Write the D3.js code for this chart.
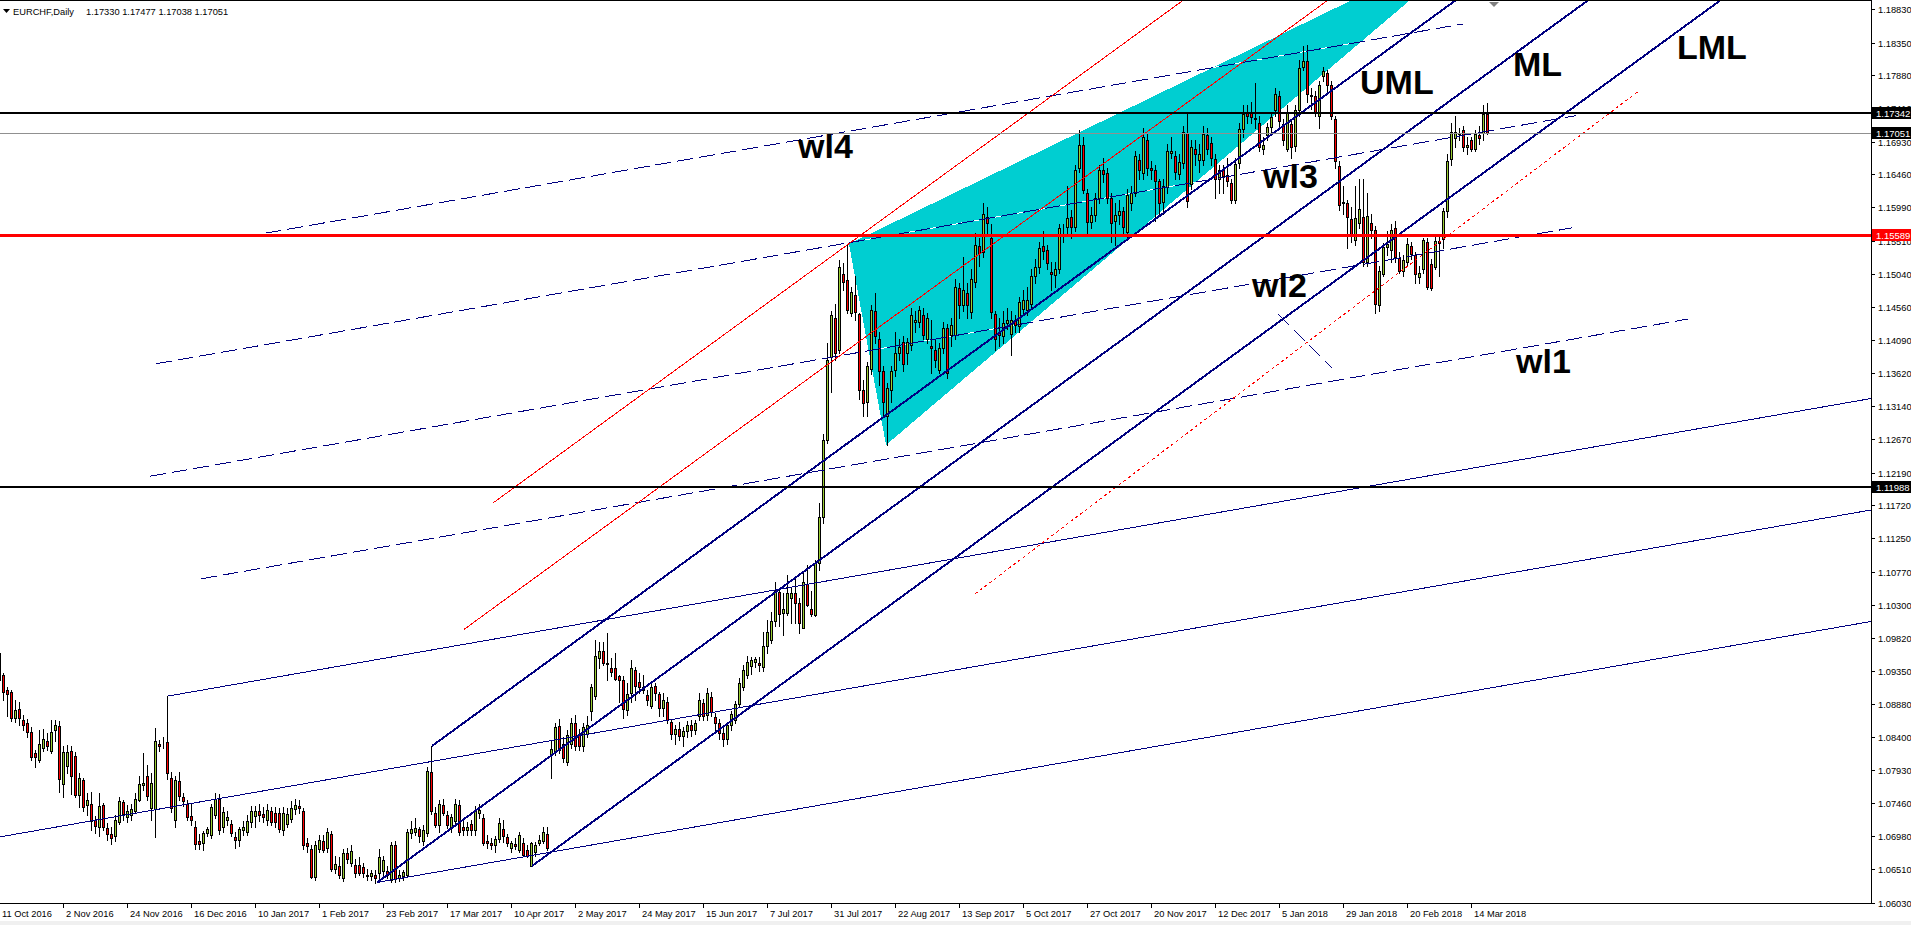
<!DOCTYPE html>
<html><head><meta charset="utf-8">
<script src="https://cdn.jsdelivr.net/npm/d3@7"></script>
<style>
html,body{margin:0;padding:0;background:#fff;overflow:hidden}
svg{display:block}
text{font-family:"Liberation Sans",Arial,sans-serif}
</style></head><body>
<svg id="chart" width="1911" height="925"></svg>
<script>
// ---------- DATA ----------
const symbolTitle = "EURCHF,Daily";
const lastQuote = "1.17330 1.17477 1.17038 1.17051";
const dateTickLabels = ["11 Oct 2016","2 Nov 2016","24 Nov 2016","16 Dec 2016","10 Jan 2017","1 Feb 2017","23 Feb 2017","17 Mar 2017","10 Apr 2017","2 May 2017","24 May 2017","15 Jun 2017","7 Jul 2017","31 Jul 2017","22 Aug 2017","13 Sep 2017","5 Oct 2017","27 Oct 2017","20 Nov 2017","12 Dec 2017","5 Jan 2018","29 Jan 2018","20 Feb 2018","14 Mar 2018"];
const barsPerDateTick = 16;
const priceTicks = [1.18830,1.18350,1.17880,1.17410,1.16930,1.16460,1.15990,1.15510,1.15040,1.14560,1.14090,1.13620,1.13140,1.12670,1.12190,1.11720,1.11250,1.10770,1.10300,1.09820,1.09350,1.08880,1.08400,1.07930,1.07460,1.06980,1.06510,1.06030];

const opens = [1.0960,1.0929,1.0908,1.0905,1.0867,1.0881,1.0865,1.0860,1.0848,1.0817,1.0808,1.0824,1.0835,1.0821,1.0850,1.0856,1.0773,1.0799,1.0820,1.0813,1.0757,1.0779,1.0743,1.0745,1.0722,1.0711,1.0743,1.0710,1.0702,1.0698,1.0718,1.0747,1.0726,1.0729,1.0735,1.0750,1.0772,1.0784,1.0738,1.0737,1.0831,1.0830,1.0833,1.0781,1.0722,1.0777,1.0754,1.0745,1.0727,1.0711,1.0691,1.0689,1.0703,1.0700,1.0729,1.0752,1.0712,1.0722,1.0716,1.0697,1.0693,1.0707,1.0704,1.0719,1.0727,1.0734,1.0730,1.0722,1.0734,1.0732,1.0731,1.0707,1.0716,1.0723,1.0737,1.0742,1.0734,1.0688,1.0680,1.0640,1.0680,1.0692,1.0682,1.0702,1.0652,1.0655,1.0638,1.0674,1.0660,1.0657,1.0657,1.0654,1.0643,1.0641,1.0643,1.0645,1.0649,1.0649,1.0636,1.0685,1.0638,1.0641,1.0643,1.0703,1.0705,1.0708,1.0691,1.0703,1.0790,1.0732,1.0715,1.0743,1.0729,1.0712,1.0720,1.0743,1.0711,1.0707,1.0716,1.0707,1.0732,1.0724,1.0692,1.0688,1.0686,1.0694,1.0708,1.0697,1.0681,1.0687,1.0679,1.0689,1.0679,1.0655,1.0676,1.0689,1.0691,1.0701,1.0815,1.0819,1.0856,1.0831,1.0805,1.0831,1.0860,1.0843,1.0827,1.0845,1.0877,1.0899,1.0953,1.0964,1.0946,1.0939,1.0939,1.0927,1.0922,1.0879,1.0903,1.0937,1.0919,1.0907,1.0900,1.0885,1.0914,1.0902,1.0882,1.0891,1.0862,1.0845,1.0852,1.0842,1.0849,1.0858,1.0850,1.0870,1.0889,1.0872,1.0897,1.0869,1.0861,1.0846,1.0838,1.0858,1.0865,1.0888,1.0912,1.0929,1.0942,1.0948,1.0946,1.0940,1.0970,1.0979,1.1006,1.1048,1.1018,1.1018,1.1040,1.1046,1.1032,1.0996,1.1059,1.1023,1.1015,1.1089,1.1155,1.1266,1.1385,1.1441,1.1395,1.1503,1.1495,1.1447,1.1473,1.1446,1.1337,1.1320,1.1368,1.1450,1.1410,1.1364,1.1300,1.1337,1.1366,1.1390,1.1406,1.1390,1.1402,1.1435,1.1435,1.1445,1.1411,1.1400,1.1394,1.1366,1.1397,1.1426,1.1416,1.1416,1.1484,1.1459,1.1476,1.1449,1.1492,1.1543,1.1535,1.1585,1.1555,1.1446,1.1421,1.1414,1.1433,1.1418,1.1437,1.1429,1.1454,1.1452,1.1461,1.1500,1.1513,1.1543,1.1538,1.1506,1.1502,1.1511,1.1566,1.1571,1.1585,1.1571,1.1655,1.1688,1.1620,1.1578,1.1588,1.1612,1.1652,1.1648,1.1612,1.1580,1.1588,1.1593,1.1564,1.1605,1.1620,1.1667,1.1648,1.1695,1.1655,1.1652,1.1636,1.1607,1.1628,1.1677,1.1672,1.1647,1.1662,1.1706,1.1633,1.1683,1.1667,1.1667,1.1702,1.1691,1.1668,1.1640,1.1652,1.1645,1.1634,1.1610,1.1662,1.1711,1.1735,1.1736,1.1727,1.1720,1.1683,1.1702,1.1714,1.1738,1.1758,1.1719,1.1683,1.1719,1.1687,1.1738,1.1800,1.1808,1.1760,1.1758,1.1730,1.1787,1.1791,1.1774,1.1725,1.1658,1.1606,1.1605,1.1582,1.1552,1.1576,1.1585,1.1521,1.1577,1.1566,1.1459,1.1504,1.1542,1.1538,1.1570,1.1527,1.1508,1.1521,1.1543,1.1530,1.1499,1.1511,1.1550,1.1518,1.1514,1.1551,1.1553,1.1593,1.1668,1.1698,1.1704,1.1709,1.1686,1.1695,1.1683,1.1702,1.1705,1.1733];
const highs = [1.0965,1.0932,1.0912,1.0908,1.0894,1.0890,1.0872,1.0866,1.0855,1.0822,1.0850,1.0852,1.0846,1.0865,1.0865,1.0863,1.0828,1.0829,1.0827,1.0819,1.0789,1.0782,1.0760,1.0761,1.0727,1.0760,1.0746,1.0717,1.0712,1.0729,1.0755,1.0750,1.0743,1.0745,1.0760,1.0784,1.0817,1.0800,1.0789,1.0853,1.0836,1.0840,1.0899,1.0790,1.0784,1.0790,1.0760,1.0750,1.0745,1.0720,1.0701,1.0706,1.0712,1.0744,1.0760,1.0758,1.0740,1.0735,1.0722,1.0705,1.0712,1.0720,1.0728,1.0742,1.0742,1.0745,1.0740,1.0745,1.0740,1.0740,1.0738,1.0740,1.0738,1.0748,1.0752,1.0750,1.0738,1.0695,1.0686,1.0692,1.0700,1.0700,1.0710,1.0706,1.0670,1.0668,1.0680,1.0682,1.0685,1.0665,1.0668,1.0660,1.0652,1.0650,1.0650,1.0680,1.0670,1.0655,1.0690,1.0692,1.0650,1.0650,1.0708,1.0720,1.0725,1.0712,1.0715,1.0798,1.0828,1.0740,1.0750,1.0752,1.0735,1.0730,1.0752,1.0750,1.0720,1.0718,1.0722,1.0742,1.0745,1.0730,1.0700,1.0695,1.0698,1.0725,1.0722,1.0702,1.0692,1.0695,1.0705,1.0695,1.0685,1.0690,1.0690,1.0700,1.0712,1.0712,1.0836,1.0860,1.0866,1.0840,1.0850,1.0868,1.0872,1.0852,1.0860,1.0870,1.0916,1.0979,1.0977,1.0977,1.0989,1.0953,1.0960,1.0929,1.0927,1.0917,1.0951,1.0941,1.0932,1.0929,1.0908,1.0917,1.0917,1.0905,1.0903,1.0898,1.0865,1.0858,1.0862,1.0855,1.0863,1.0864,1.0864,1.0903,1.0895,1.0910,1.0905,1.0875,1.0866,1.0856,1.0862,1.0878,1.0892,1.0925,1.0944,1.0956,1.0955,1.0955,1.0955,1.0991,1.1008,1.1020,1.1063,1.1054,1.1046,1.1073,1.1054,1.1068,1.1039,1.1075,1.1087,1.1049,1.1094,1.1175,1.1275,1.1405,1.1450,1.1461,1.1524,1.1519,1.1547,1.1485,1.1500,1.1447,1.1352,1.1378,1.1459,1.1476,1.1420,1.1372,1.1348,1.1372,1.1421,1.1410,1.1415,1.1412,1.1455,1.1450,1.1457,1.1455,1.1448,1.1438,1.1410,1.1405,1.1435,1.1432,1.1440,1.1497,1.1490,1.1528,1.1490,1.1510,1.1562,1.1555,1.1605,1.1600,1.1575,1.1450,1.1440,1.1450,1.1455,1.1450,1.1445,1.1470,1.1480,1.1485,1.1510,1.1525,1.1550,1.1565,1.1545,1.1520,1.1520,1.1575,1.1575,1.1629,1.1595,1.1660,1.1710,1.1700,1.1625,1.1600,1.1620,1.1660,1.1670,1.1655,1.1620,1.1605,1.1610,1.1600,1.1625,1.1630,1.1680,1.1675,1.1712,1.1705,1.1665,1.1660,1.1640,1.1640,1.1690,1.1700,1.1680,1.1675,1.1715,1.1734,1.1695,1.1695,1.1690,1.1715,1.1712,1.1700,1.1675,1.1660,1.1660,1.1670,1.1640,1.1670,1.1720,1.1745,1.1745,1.1750,1.1777,1.1730,1.1700,1.1720,1.1735,1.1770,1.1765,1.1725,1.1745,1.1725,1.1745,1.1810,1.1830,1.1832,1.1770,1.1765,1.1780,1.1800,1.1796,1.1780,1.1730,1.1665,1.1630,1.1610,1.1600,1.1630,1.1640,1.1640,1.1620,1.1590,1.1572,1.1515,1.1548,1.1565,1.1575,1.1580,1.1535,1.1530,1.1555,1.1550,1.1535,1.1515,1.1555,1.1555,1.1525,1.1557,1.1560,1.1598,1.1675,1.1720,1.1730,1.1712,1.1715,1.1700,1.1700,1.1710,1.1715,1.1745,1.1748];
const lows = [1.0915,1.0894,1.0870,1.0863,1.0862,1.0858,1.0850,1.0840,1.0808,1.0797,1.0804,1.0820,1.0822,1.0818,1.0834,1.0762,1.0755,1.0789,1.0758,1.0754,1.0740,1.0734,1.0729,1.0707,1.0703,1.0698,1.0707,1.0693,1.0687,1.0691,1.0716,1.0722,1.0719,1.0722,1.0731,1.0748,1.0765,1.0750,1.0722,1.0697,1.0820,1.0825,1.0780,1.0733,1.0712,1.0750,1.0742,1.0722,1.0715,1.0680,1.0680,1.0678,1.0698,1.0695,1.0725,1.0702,1.0705,1.0715,1.0698,1.0682,1.0684,1.0700,1.0700,1.0712,1.0712,1.0720,1.0718,1.0715,1.0715,1.0712,1.0705,1.0700,1.0712,1.0718,1.0730,1.0732,1.0680,1.0675,1.0638,1.0636,1.0675,1.0675,1.0676,1.0648,1.0645,1.0638,1.0634,1.0660,1.0655,1.0640,1.0642,1.0640,1.0636,1.0636,1.0631,1.0632,1.0640,1.0638,1.0632,1.0632,1.0634,1.0636,1.0640,1.0695,1.0700,1.0690,1.0685,1.0698,1.0730,1.0712,1.0705,1.0728,1.0710,1.0705,1.0715,1.0700,1.0700,1.0700,1.0700,1.0700,1.0725,1.0685,1.0682,1.0680,1.0676,1.0690,1.0690,1.0684,1.0676,1.0680,1.0675,1.0670,1.0668,1.0655,1.0670,1.0685,1.0688,1.0678,1.0781,1.0815,1.0818,1.0805,1.0800,1.0825,1.0822,1.0822,1.0820,1.0840,1.0865,1.0895,1.0939,1.0943,1.0922,1.0927,1.0922,1.0891,1.0868,1.0872,1.0891,1.0894,1.0903,1.0903,1.0886,1.0882,1.0894,1.0870,1.0870,1.0860,1.0838,1.0830,1.0836,1.0828,1.0840,1.0842,1.0845,1.0865,1.0865,1.0865,1.0870,1.0850,1.0838,1.0828,1.0830,1.0850,1.0860,1.0883,1.0908,1.0925,1.0930,1.0940,1.0935,1.0935,1.0960,1.0975,1.0999,1.0999,1.0986,1.1015,1.1004,1.1004,1.0989,1.0996,1.1028,1.1013,1.1013,1.1080,1.1147,1.1261,1.1335,1.1380,1.1390,1.1480,1.1447,1.1443,1.1438,1.1325,1.1300,1.1300,1.1360,1.1405,1.1345,1.1300,1.1259,1.1320,1.1358,1.1380,1.1365,1.1375,1.1395,1.1420,1.1428,1.1410,1.1405,1.1361,1.1370,1.1362,1.1390,1.1355,1.1400,1.1410,1.1440,1.1450,1.1440,1.1440,1.1485,1.1515,1.1528,1.1560,1.1440,1.1395,1.1400,1.1405,1.1425,1.1387,1.1420,1.1420,1.1448,1.1445,1.1455,1.1490,1.1505,1.1525,1.1510,1.1480,1.1485,1.1505,1.1550,1.1560,1.1555,1.1565,1.1650,1.1620,1.1560,1.1570,1.1580,1.1605,1.1635,1.1605,1.1550,1.1545,1.1575,1.1560,1.1555,1.1595,1.1615,1.1640,1.1640,1.1645,1.1640,1.1580,1.1590,1.1590,1.1620,1.1670,1.1640,1.1640,1.1655,1.1600,1.1625,1.1660,1.1650,1.1660,1.1675,1.1660,1.1612,1.1620,1.1620,1.1630,1.1605,1.1605,1.1655,1.1700,1.1720,1.1720,1.1712,1.1680,1.1676,1.1695,1.1705,1.1730,1.1715,1.1688,1.1680,1.1670,1.1680,1.1730,1.1795,1.1750,1.1740,1.1730,1.1712,1.1780,1.1765,1.1725,1.1655,1.1595,1.1590,1.1540,1.1550,1.1545,1.1570,1.1515,1.1515,1.1555,1.1448,1.1450,1.1500,1.1530,1.1520,1.1520,1.1505,1.1500,1.1515,1.1525,1.1490,1.1490,1.1505,1.1482,1.1480,1.1510,1.1500,1.1540,1.1585,1.1660,1.1685,1.1695,1.1680,1.1675,1.1680,1.1680,1.1690,1.1695,1.1704];
const closes = [1.0922,1.0905,1.0902,1.0867,1.0879,1.0867,1.0858,1.0848,1.0812,1.0811,1.0830,1.0837,1.0828,1.0848,1.0857,1.0780,1.0819,1.0819,1.0785,1.0757,1.0781,1.0740,1.0750,1.0720,1.0713,1.0742,1.0712,1.0701,1.0695,1.0722,1.0749,1.0730,1.0734,1.0737,1.0752,1.0773,1.0775,1.0756,1.0775,1.0835,1.0828,1.0831,1.0789,1.0738,1.0779,1.0756,1.0749,1.0726,1.0721,1.0687,1.0687,1.0703,1.0708,1.0740,1.0752,1.0707,1.0733,1.0726,1.0703,1.0693,1.0709,1.0711,1.0720,1.0734,1.0735,1.0729,1.0726,1.0736,1.0719,1.0719,1.0708,1.0731,1.0730,1.0738,1.0743,1.0738,1.0685,1.0684,1.0640,1.0685,1.0693,1.0679,1.0704,1.0652,1.0658,1.0643,1.0674,1.0665,1.0677,1.0646,1.0646,1.0645,1.0641,1.0645,1.0638,1.0668,1.0664,1.0643,1.0685,1.0637,1.0642,1.0647,1.0705,1.0708,1.0710,1.0699,1.0707,1.0791,1.0734,1.0715,1.0744,1.0731,1.0715,1.0726,1.0744,1.0705,1.0707,1.0712,1.0707,1.0736,1.0736,1.0689,1.0688,1.0686,1.0694,1.0717,1.0698,1.0689,1.0688,1.0684,1.0700,1.0672,1.0670,1.0688,1.0686,1.0693,1.0705,1.0682,1.0823,1.0855,1.0822,1.0810,1.0843,1.0860,1.0827,1.0827,1.0855,1.0858,1.0912,1.0956,1.0964,1.0947,1.0945,1.0934,1.0924,1.0922,1.0880,1.0902,1.0939,1.0914,1.0912,1.0912,1.0894,1.0912,1.0903,1.0882,1.0894,1.0865,1.0845,1.0852,1.0842,1.0849,1.0858,1.0850,1.0861,1.0894,1.0870,1.0903,1.0876,1.0860,1.0846,1.0838,1.0857,1.0874,1.0888,1.0918,1.0936,1.0948,1.0951,1.0952,1.0943,1.0971,1.0991,1.1007,1.1051,1.1017,1.1023,1.1047,1.1047,1.1032,1.1004,1.1063,1.1029,1.1017,1.1089,1.1155,1.1266,1.1381,1.1445,1.1390,1.1513,1.1492,1.1452,1.1478,1.1449,1.1337,1.1318,1.1371,1.1452,1.1414,1.1364,1.1320,1.1340,1.1364,1.1390,1.1399,1.1375,1.1406,1.1445,1.1438,1.1452,1.1416,1.1441,1.1397,1.1380,1.1397,1.1426,1.1361,1.1430,1.1485,1.1459,1.1481,1.1459,1.1496,1.1545,1.1534,1.1589,1.1577,1.1449,1.1411,1.1416,1.1434,1.1437,1.1438,1.1430,1.1464,1.1466,1.1466,1.1501,1.1514,1.1541,1.1537,1.1519,1.1503,1.1511,1.1569,1.1567,1.1583,1.1571,1.1652,1.1688,1.1624,1.1578,1.1588,1.1612,1.1652,1.1647,1.1612,1.1577,1.1588,1.1594,1.1571,1.1617,1.1620,1.1672,1.1653,1.1700,1.1655,1.1652,1.1636,1.1605,1.1629,1.1679,1.1680,1.1650,1.1664,1.1707,1.1608,1.1686,1.1676,1.1675,1.1704,1.1683,1.1669,1.1639,1.1652,1.1644,1.1636,1.1610,1.1661,1.1711,1.1733,1.1730,1.1729,1.1726,1.1686,1.1688,1.1714,1.1728,1.1761,1.1723,1.1695,1.1736,1.1686,1.1739,1.1799,1.1808,1.1761,1.1759,1.1736,1.1774,1.1794,1.1774,1.1730,1.1666,1.1602,1.1605,1.1585,1.1559,1.1583,1.1596,1.1521,1.1587,1.1566,1.1461,1.1508,1.1542,1.1547,1.1567,1.1528,1.1508,1.1523,1.1547,1.1532,1.1503,1.1505,1.1552,1.1485,1.1484,1.1551,1.1548,1.1593,1.1666,1.1707,1.1707,1.1705,1.1685,1.1688,1.1683,1.1704,1.1698,1.1733,1.1705];

// horizontal levels
const levelPrices = [1.17342, 1.17051, 1.15589, 1.11988];
const levelColors = ["#000000", "#909090", "#ff0000", "#000000"];
const levelWidths = [2, 1, 3, 2];
const levelBoxColors = ["#000000", "#000000", "#ff0000", "#000000"];

// Andrews pitchforks: [barIndex, price] for points 1,2,3
const pitchforkThin = [[-77, 1.0620], [42.25, 1.0899], [94.5, 1.0632]];
const pitchforkThick = [[94.5, 1.0632], [108.25, 1.08275], [133.25, 1.06556]];
// warning lines of the thin pitchfork: multiple, from bar, to bar
const warningMultiples = [1, 2, 3, 4];
const warningFrom = [50.5, 37.75, 39.25, 61.2];
const warningTo = [422.25, 393.25, 394.25, 365.9];
const redParallels = [[123.4, 1.11751], [116.3, 1.09946]];
const redDotted = [[244, 1.10452], [410.25, 1.17669]];
const shortDashed = [[319.75, 1.14462], [333.25, 1.13688]];
const triangleCyan = [[212.5, 1.15464], [221.75, 1.12586], [372.25, 1.19904]];

const textLabels = ["UML", "ML", "LML", "wl4", "wl3", "wl2", "wl1"];
const textBars = [340.25, 378.5, 419.5, 199.75, 316, 313.25, 379.25];
const textPrices = [1.17613, 1.17871, 1.18114, 1.16696, 1.16266, 1.14705, 1.13617];

// ---------- CHART ----------
const W = 1911, H = 925, plotR = 1871, plotB = 903;
const svg = d3.select("#chart");
const x = d3.scaleLinear().domain([0, closes.length - 1]).range([-1, -1 + 4 * (closes.length - 1)]);
const y = d3.scaleLinear().domain([1.06026, 1.18959]).range([plotB, 0]);

svg.append("rect").attr("width", W).attr("height", H).attr("fill", "#fff");
const defs = svg.append("defs");
defs.append("clipPath").attr("id", "plot").append("rect").attr("x", 0).attr("y", 1).attr("width", plotR).attr("height", plotB - 1);
const triPts = triangleCyan.map(d => [x(d[0]), y(d[1])]);
defs.append("clipPath").attr("id", "tri").append("polygon").attr("points", triPts.map(p => p.join(",")).join(" "));

const g = svg.append("g").attr("clip-path", "url(#plot)");
g.append("polygon").attr("points", triPts.map(p => p.join(",")).join(" ")).attr("fill", "#00ced1").attr("shape-rendering", "crispEdges");

const line = d3.line().x(d => x(d[0])).y(d => y(d[1]));
function ray(p, slope, toBar) { return [p, [toBar, p[1] + slope * (toBar - p[0])]]; }
function pitch(pts) {
  const mid = [(pts[1][0] + pts[2][0]) / 2, (pts[1][1] + pts[2][1]) / 2];
  return (mid[1] - pts[0][1]) / (mid[0] - pts[0][0]);
}
const slopeA = pitch(pitchforkThin);
const slopeB = pitch(pitchforkThick);
const far = 800;
const upperA = b => pitchforkThin[1][1] + slopeA * (b - pitchforkThin[1][0]);
const medianA = b => pitchforkThin[0][1] + slopeA * (b - pitchforkThin[0][0]);
const widthA = upperA(0) - medianA(0);

const wlSegs = warningMultiples.map((k, j) => [[warningFrom[j], upperA(warningFrom[j]) + k * widthA], [warningTo[j], upperA(warningTo[j]) + k * widthA]]);
const dashedSegs = wlSegs.concat([shortDashed]);
const under = g.append("g").attr("clip-path", "url(#tri)");
dashedSegs.forEach(s => under.append("path").attr("d", line(s)).attr("stroke", "#fff").attr("stroke-width", 1).attr("fill", "none").attr("shape-rendering", "crispEdges"));

// candles
const cg = g.append("g").attr("shape-rendering", "crispEdges");
const idx = d3.range(closes.length);
cg.selectAll("line.w").data(idx).join("line")
  .attr("x1", i => Math.round(x(i)) + 0.5).attr("x2", i => Math.round(x(i)) + 0.5)
  .attr("y1", i => Math.round(y(highs[i]))).attr("y2", i => Math.round(y(lows[i])) + 1)
  .attr("stroke", "#000").attr("stroke-width", 1);
cg.selectAll("rect.b").data(idx).join("rect")
  .attr("x", i => Math.round(x(i)) - 0.5)
  .attr("y", i => Math.round(y(Math.max(opens[i], closes[i]))) + 0.5)
  .attr("width", 2)
  .attr("height", i => Math.max(Math.round(y(Math.min(opens[i], closes[i]))) - Math.round(y(Math.max(opens[i], closes[i]))), 0))
  .attr("fill", i => closes[i] >= opens[i] ? "#9acd32" : "#ff0000")
  .attr("stroke", "#000").attr("stroke-width", 1);

const lg = g.append("g").attr("shape-rendering", "crispEdges").attr("fill", "none");
pitchforkThin.forEach(p => lg.append("path").attr("d", line(ray(p, slopeA, far))).attr("stroke", "#000080").attr("stroke-width", 1));
dashedSegs.forEach(s => lg.append("path").attr("d", line(s)).attr("stroke", "#000080").attr("stroke-width", 1).attr("stroke-dasharray", "16,6"));
pitchforkThick.forEach(p => lg.append("path").attr("d", line(ray(p, slopeB, far))).attr("stroke", "#000080").attr("stroke-width", 2));
redParallels.forEach(p => lg.append("path").attr("d", line(ray(p, slopeB, far))).attr("stroke", "#ff0000").attr("stroke-width", 1));
lg.append("path").attr("d", line(redDotted)).attr("stroke", "#ff0000").attr("stroke-width", 1).attr("stroke-dasharray", "3,3");

levelPrices.forEach((p, j) => {
  const yy = Math.round(y(p));
  g.append("line").attr("x1", 0).attr("x2", plotR).attr("y1", yy).attr("y2", yy)
    .attr("stroke", levelColors[j]).attr("stroke-width", levelWidths[j]).attr("shape-rendering", "crispEdges");
});

textLabels.forEach((t, j) => {
  g.append("text").attr("x", x(textBars[j])).attr("y", y(textPrices[j])).text(t)
    .attr("font-size", 34).attr("font-weight", "bold").attr("fill", "#000");
});

// frame
const fr = svg.append("g").attr("shape-rendering", "crispEdges");
fr.append("line").attr("x1", 0).attr("x2", plotR + 1).attr("y1", 0.5).attr("y2", 0.5).attr("stroke", "#000");
fr.append("line").attr("x1", plotR + 0.5).attr("x2", plotR + 0.5).attr("y1", 0).attr("y2", plotB + 1).attr("stroke", "#000");
fr.append("line").attr("x1", 0).attr("x2", plotR + 1).attr("y1", plotB + 0.5).attr("y2", plotB + 0.5).attr("stroke", "#000");

// price axis
const ya = svg.append("g");
priceTicks.forEach(p => {
  const yy = Math.round(y(p));
  ya.append("line").attr("x1", plotR).attr("x2", plotR + 4).attr("y1", yy + 0.5).attr("y2", yy + 0.5).attr("stroke", "#000").attr("shape-rendering", "crispEdges");
  ya.append("text").attr("x", plotR + 7).attr("y", yy + 3.5).text(p.toFixed(5)).attr("font-size", 9.3).attr("fill", "#000");
});
levelPrices.forEach((p, j) => {
  const yy = Math.round(y(p));
  ya.append("rect").attr("x", plotR + 1).attr("y", yy - 6).attr("width", W - plotR - 1).attr("height", 12).attr("fill", levelBoxColors[j]);
  ya.append("text").attr("x", plotR + 5).attr("y", yy + 3.5).text(p.toFixed(5)).attr("font-size", 9.5).attr("fill", "#fff");
});

// time axis
const xa = svg.append("g");
dateTickLabels.forEach((t, k) => {
  const xx = Math.round(x(k * barsPerDateTick));
  xa.append("line").attr("x1", xx + 0.5).attr("x2", xx + 0.5).attr("y1", plotB).attr("y2", plotB + 5).attr("stroke", "#000").attr("shape-rendering", "crispEdges");
  xa.append("text").attr("x", xx + 3).attr("y", 917).text(t).attr("font-size", 9.3).attr("fill", "#000");
});
svg.append("rect").attr("x", 0).attr("y", 921).attr("width", W).attr("height", 4).attr("fill", "#f0f0f0");

svg.append("path").attr("d", "M1489,2 L1499,2 L1494,7 Z").attr("fill", "#808080");

svg.append("path").attr("d", "M3,9 L10,9 L6.5,13 Z").attr("fill", "#000");
svg.append("text").attr("x", 13).attr("y", 15).text(symbolTitle).attr("font-size", 9.3).attr("fill", "#000");
svg.append("text").attr("x", 86).attr("y", 15).text(lastQuote).attr("font-size", 9.3).attr("fill", "#000");
</script>
</body></html>
